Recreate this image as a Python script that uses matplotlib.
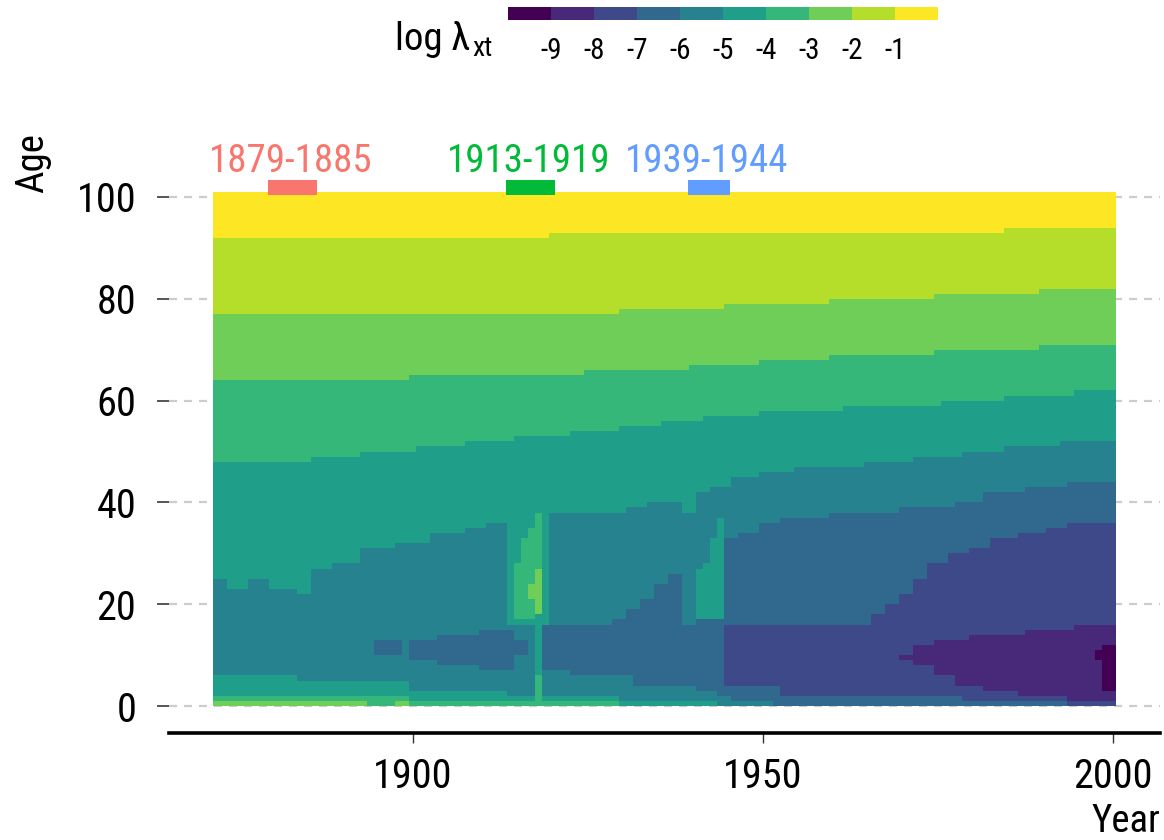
import numpy as np
import matplotlib
matplotlib.use('Agg')
import matplotlib.pyplot as plt
from matplotlib.colors import ListedColormap, BoundaryNorm
from matplotlib import font_manager

# ---- data ----------------------------------------------------------------
years = np.arange(1872, 2001)
ages = np.arange(0, 101)

# For each colour level k: ages >= A_k (adult side) or ages < C_k (child side)
# have level >= k. Values hold from each listed year until the next one.
a9_yr, a9_age = [1872, 1920, 1985], [92, 93, 94]
a8_yr, a8_age = [1872, 1930, 1945, 1960, 1975, 1990], [77, 78, 79, 80, 81, 82]
a7_yr = [1872, 1900, 1925, 1940, 1950, 1960, 1975, 1990]
a7_age = [64, 65, 66, 67, 68, 69, 70, 71]
c7_yr, c7_age = [1872, 1894, 1898, 1900], [1, 0, 1, 0]
a6_yr = [1872, 1886, 1893, 1901, 1908, 1915, 1923, 1930, 1936, 1942, 1950,
         1962, 1976, 1985, 1995]
a6_age = [48, 49, 50, 51, 52, 53, 54, 55, 56, 57, 58, 59, 60, 61, 62]
c6_yr, c6_age = [1872, 1900, 1930], [2, 1, 0]
a5_yr = [1872, 1874, 1877, 1880, 1884, 1886, 1889, 1893, 1898, 1903, 1908,
         1911, 1914, 1920, 1931, 1934, 1939, 1941, 1943, 1946, 1950, 1955,
         1965, 1972, 1979, 1985, 1993]
a5_age = [25, 23, 25, 23, 22, 27, 28, 31, 32, 34, 35, 36, 16, 38, 39, 40, 38,
          42, 43, 45, 46, 47, 48, 49, 50, 51, 52]
c5_yr, c5_age = [1872, 1884, 1900, 1914, 1930, 1944], [6, 5, 3, 2, 1, 0]
a4_yr = [1872, 1895, 1899, 1900, 1904, 1910, 1915, 1917, 1919, 1929, 1931,
         1933, 1935, 1937, 1939, 1941, 1945, 1947, 1950, 1953, 1960, 1970,
         1978, 1982, 1988, 1994]
a4_age = [0, 13, 0, 13, 14, 15, 13, 0, 16, 17, 19, 21, 24, 26, 16, 17, 33, 34,
          36, 37, 38, 39, 40, 42, 43, 44]
c4_yr = [1872, 1895, 1899, 1900, 1904, 1910, 1915, 1917, 1919, 1923, 1932,
         1941, 1944, 1946, 1952]
c4_age = [0, 10, 0, 9, 8, 7, 10, 0, 7, 6, 4, 3, 2, 1, 0]
a3_yr = [1872, 1945, 1966, 1968, 1970, 1972, 1974, 1977, 1980, 1983, 1987,
         1991, 1994]
a3_age = [0, 16, 18, 20, 22, 25, 28, 30, 31, 33, 34, 35, 36]
c3_yr, c3_age = [1872, 1945, 1953, 1979, 1994], [0, 4, 2, 1, 0]
a2_yr, a2_age = [1872, 1970, 1972, 1975, 1980, 1988, 1995], [0, 10, 12, 13, 14, 15, 16]
c2_yr = [1872, 1970, 1972, 1975, 1978, 1982, 1987, 1994]
c2_age = [0, 9, 8, 6, 4, 3, 2, 1]
a1_yr, a1_age = [1872, 1998, 1999], [0, 11, 12]
c1_yr, c1_age = [1872, 1998, 1999], [0, 9, 3]

# war-time islands: year, first age, last age, level
isl_year = [1915, 1916, 1917, 1918, 1917, 1918, 1918, 1918, 1941, 1942, 1943, 1944]
isl_lo = [17, 17, 17, 18, 21, 18, 0, 6, 17, 17, 17, 17]
isl_hi = [27, 32, 34, 37, 23, 26, 5, 15, 26, 27, 32, 36]
isl_lev = [6, 6, 6, 6, 7, 7, 6, 5, 5, 5, 5, 5]

cbar_ticks = [-9, -8, -7, -6, -5, -4, -3, -2, -1]
periods = ['1879-1885', '1913-1919', '1939-1944']
period_start = [1879, 1913, 1939]
period_end = [1885, 1919, 1944]
period_cols = ['#F8766D', '#00BA38', '#619CFF']


def step(yrs, vals):
    idx = np.searchsorted(np.asarray(yrs), years, side='right') - 1
    return np.asarray(vals)[idx]


zero = np.zeros(len(years), int)
bounds = {
    9: (step(a9_yr, a9_age), zero),
    8: (step(a8_yr, a8_age), zero),
    7: (step(a7_yr, a7_age), step(c7_yr, c7_age)),
    6: (step(a6_yr, a6_age), step(c6_yr, c6_age)),
    5: (step(a5_yr, a5_age), step(c5_yr, c5_age)),
    4: (step(a4_yr, a4_age), step(c4_yr, c4_age)),
    3: (step(a3_yr, a3_age), step(c3_yr, c3_age)),
    2: (step(a2_yr, a2_age), step(c2_yr, c2_age)),
    1: (step(a1_yr, a1_age), step(c1_yr, c1_age)),
}

AGE = ages[:, None]
level = np.zeros((len(ages), len(years)), int)
for k, (a_k, c_k) in bounds.items():
    ge = (AGE >= a_k[None, :]) | (AGE < c_k[None, :])
    level = np.where(ge, np.maximum(level, k), level)
for y, lo, hi, lv in zip(isl_year, isl_lo, isl_hi, isl_lev):
    level[lo:hi + 1, y - years[0]] = lv
log_rate = level - 9.5

# ---- fonts: prefer a narrow face like the original -------------------------
names = sorted({f.name for f in font_manager.fontManager.ttflist})
narrow = [n for n in ['Roboto Condensed', 'Liberation Sans Narrow', 'Open Sans Condensed']
          if n in names]
narrow += [n for n in names if ('Condensed' in n or 'Narrow' in n) and n not in narrow]
if narrow:
    FAM, FS = [narrow[0], 'DejaVu Sans'], 1.0
else:
    FAM, FS = ['Roboto', 'DejaVu Sans'], 0.9
plt.rcParams['font.family'] = FAM
plt.rcParams['lines.scale_dashes'] = False

# ---- figure ----------------------------------------------------------------
W, H = 1164, 840
fig = plt.figure(figsize=(W / 100, H / 100), dpi=100)
ax = fig.add_axes([169 / W, (H - 733) / H, (1160 - 169) / W, (733 - 170) / H])

cmap = ListedColormap(plt.cm.viridis(np.linspace(0, 1, 10)))
norm = BoundaryNorm(np.arange(-10, 1), cmap.N)
mesh = ax.pcolormesh(np.arange(1871.5, 2001.5), np.arange(0, 102), log_rate,
                     cmap=cmap, norm=norm, zorder=2)

for a in range(0, 101, 20):
    ax.axhline(a, color='#cccccc', lw=1.6, dashes=(5.8, 5.0), zorder=1)

ax.set_xlim(1900 - 244 / 7, 1900 + 747 / 7)
ax.set_ylim(-27 / 5.09, 536 / 5.09)
ax.set_xticks([1900, 1950, 2000])
ax.set_yticks(range(0, 101, 20))
for s in ['left', 'top', 'right']:
    ax.spines[s].set_visible(False)
ax.spines['bottom'].set_linewidth(2.6)
ax.tick_params(axis='x', length=7, width=1.0, color='#333333', pad=10,
               labelsize=29 * FS)
ax.tick_params(axis='y', length=8.5, width=1.4, color='#555555', pad=15,
               labelsize=29 * FS)

# period markers
for lab, s, e, c in zip(periods, period_start, period_end, period_cols):
    ax.bar(s + 0.25, 3.0, width=e + 1 - s, bottom=100.3, align='edge',
           color=c, clip_on=False, zorder=3)
    ax.text((s + e + 1) / 2, 104.9, lab, color=c, ha='center', va='baseline',
            fontsize=28 * FS, clip_on=False)

fig.text(33 / W, 1 - 163 / H, 'Age', rotation=90, ha='center', va='center',
         fontsize=28 * FS)
fig.text(1160 / W, 1 - 822 / H, 'Year', ha='right', va='center', fontsize=28 * FS)

# colour legend on top
cax = fig.add_axes([508 / W, 1 - 20 / H, 430 / W, 13 / H])
cb = fig.colorbar(mesh, cax=cax, orientation='horizontal', ticks=cbar_ticks)
cb.outline.set_visible(False)
cb.minorticks_off()
cax.tick_params(which='both', length=0, pad=12, labelsize=21 * FS)
cax.set_xticklabels([str(t) for t in cbar_ticks])
fig.text(470 / W, 1 - 50 / H, 'log λ', ha='right', va='baseline', fontsize=28 * FS)
fig.text(472 / W, 1 - 56 / H, 'xt', ha='left', va='baseline', fontsize=20 * FS)

fig.savefig('out.png', dpi=100)
